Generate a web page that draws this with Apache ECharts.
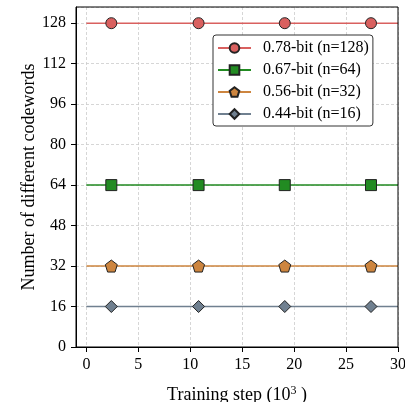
<!DOCTYPE html>
<html>
<head>
<meta charset="utf-8">
<script src="https://cdn.jsdelivr.net/npm/echarts@6/dist/echarts.min.js"></script>
<style>
html, body { margin: 0; padding: 0; background: #fff; }
#main { width: 405px; height: 402px; }
</style>
</head>
<body>
<div id="main"></div>
<script>
// training steps (10^3) where the lines run / markers sit
var stepLine = [0, 30];
var stepMarks = [2.4, 10.8, 19.1, 27.4];
var seriesNames = ['0.78-bit (n=128)', '0.67-bit (n=64)', '0.56-bit (n=32)', '0.44-bit (n=16)'];
var codewords = [128, 64, 32, 16];
var xTicks = [0, 5, 10, 15, 20, 25, 30];

var colors = ['#d9605f', '#228b22', '#cd853f', '#708090'];
var symbols = [
    'circle',
    'rect',
    'path://M0,-1 L0.951,-0.309 L0.588,0.809 L-0.588,0.809 L-0.951,-0.309 Z',
    'diamond'
];
var symSizes = [11, 11, 12, 12];
var font = '"Liberation Serif", "Times New Roman", serif';

var chart = echarts.init(document.getElementById('main'));

var series = [];
seriesNames.forEach(function (name, i) {
    var pts = [];
    var xs = [stepLine[0]].concat(stepMarks, [stepLine[1]]);
    xs.forEach(function (x, k) {
        var item = { value: [x, codewords[i]] };
        if (k === 0 || k === xs.length - 1) item.symbol = 'none';
        pts.push(item);
    });
    series.push({
        name: name,
        type: 'line',
        data: pts,
        symbol: symbols[i],
        symbolSize: symSizes[i],
        showAllSymbol: true,
        lineStyle: { color: colors[i], width: 1.5 },
        itemStyle: { color: colors[i], borderColor: '#222', borderWidth: 1 },
        emphasis: { disabled: true },
        z: 3
    });
});

chart.setOption({
    animation: false,
    textStyle: { fontFamily: font },
    grid: { left: 76, right: 7, top: 7, bottom: 55, containLabel: false, outerBoundsMode: 'none' },
    legend: {
        data: seriesNames,
        orient: 'vertical',
        left: 213,
        top: 35,
        itemWidth: 33,
        itemHeight: 12,
        itemGap: 6,
        padding: [5, 4, 4, 4],
        backgroundColor: '#fff',
        borderColor: '#333',
        borderWidth: 1,
        borderRadius: 3,
        textStyle: { fontFamily: font, fontSize: 16, color: '#000', padding: [0, 0, 0, 7] }
    },
    xAxis: {
        type: 'value',
        min: -1,
        max: 30,
        name: 'Training step (10{sup|3} )',
        nameLocation: 'middle',
        nameGap: 38,
        nameMoveOverlap: false,
        nameTextStyle: {
            fontFamily: font, fontSize: 18, color: '#000',
            rich: { sup: { fontFamily: font, fontSize: 12, verticalAlign: 'top', padding: [0, 0, 8, 0], color: '#000' } }
        },
        axisLine: { onZero: false, lineStyle: { color: '#000', width: 1 } },
        axisTick: { show: true, customValues: xTicks, length: 5, lineStyle: { color: '#000' } },
        axisLabel: { customValues: xTicks, fontFamily: font, fontSize: 16, color: '#000', margin: 10 },
        splitLine: { show: true, lineStyle: { color: '#ccc', type: [3, 2], width: 0.8 } }
    },
    yAxis: {
        type: 'value',
        min: 0,
        max: 134.4,
        interval: 16,
        name: 'Number of different codewords',
        nameLocation: 'middle',
        nameGap: 38,
        nameMoveOverlap: false,
        nameTextStyle: { fontFamily: font, fontSize: 18, color: '#000' },
        axisLine: { show: true, onZero: false, lineStyle: { color: '#000', width: 1 } },
        axisTick: { show: true, length: 5, lineStyle: { color: '#000' } },
        axisLabel: { showMaxLabel: false, fontFamily: font, fontSize: 16, color: '#000', margin: 10 },
        splitLine: { show: true, lineStyle: { color: '#ccc', type: [3, 2], width: 0.8 } }
    },
    series: series
});

// frame on top and right, like the reference box
chart.setOption({
    graphic: [{
        type: 'rect',
        shape: { x: 76, y: 7, width: 322, height: 340 },
        style: { fill: null, stroke: '#000', lineWidth: 1 },
        silent: true,
        z: 10
    }]
});
</script>
</body>
</html>
